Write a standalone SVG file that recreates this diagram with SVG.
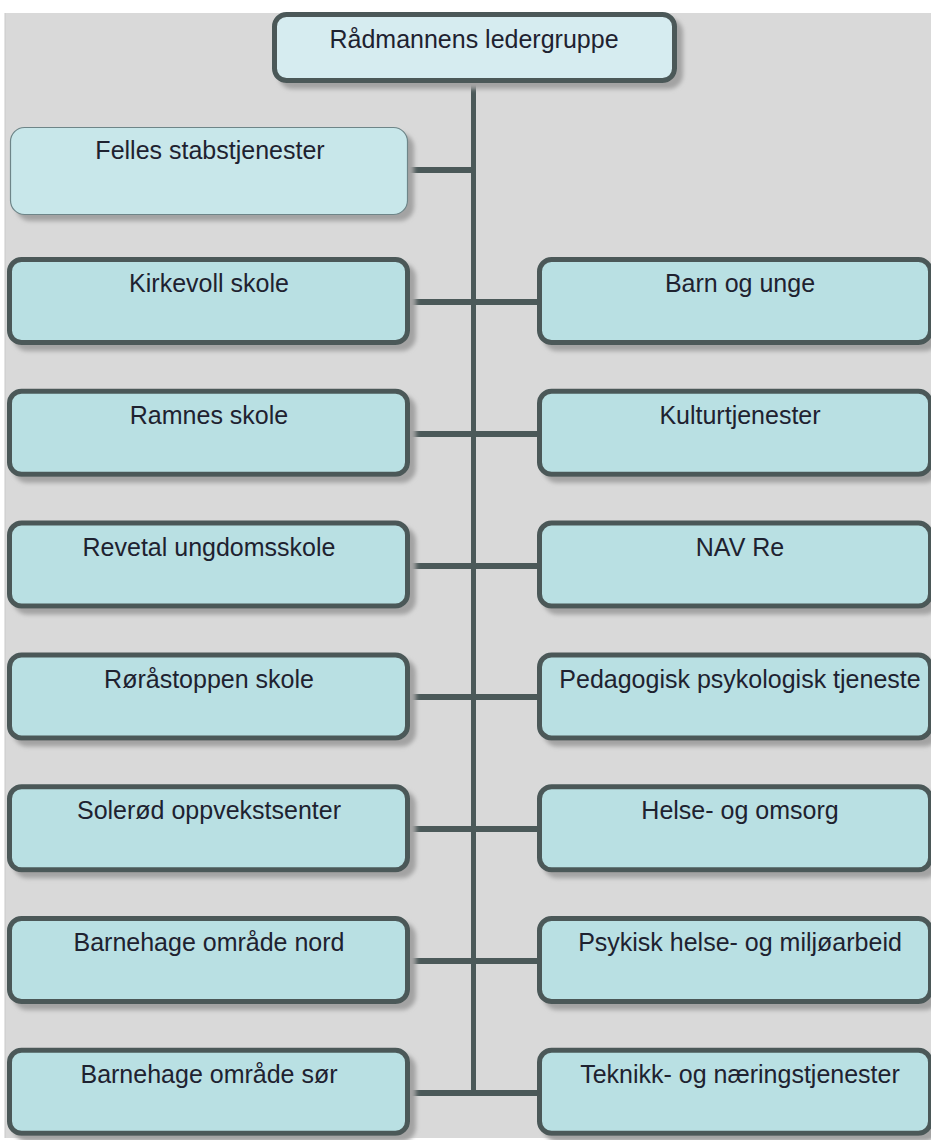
<svg xmlns="http://www.w3.org/2000/svg" width="931" height="1140" viewBox="0 0 931 1140">
<style>
.box{fill:#b9e0e3;stroke:#4b5959;stroke-width:5;filter:url(#sh)}
.top{fill:#d6ecf0;stroke:#4b5959;stroke-width:5;filter:url(#sh)}
.staff{fill:#c8e7ea;stroke:#6e8588;stroke-width:1.2;filter:url(#sh)}
.t{font-family:"Liberation Sans",Arial,sans-serif;font-size:25px;fill:#1e2230;text-anchor:middle}
.con{stroke:#4b5959;fill:none}
</style>
<defs>
<filter id="sh" x="-5%" y="-10%" width="115%" height="130%">
<feDropShadow dx="6" dy="6" stdDeviation="2" flood-color="#a3a3a3" flood-opacity="1"/>
</filter>
</defs>
<rect x="0" y="0" width="931" height="1140" fill="#ffffff"/>
<rect x="5" y="13" width="926" height="1125" fill="#d9d9d9"/>
<line x1="5" y1="13" x2="5" y2="1138" stroke="#c9c9c9" stroke-width="1"/>

<g id="connectors">
<line class="con" x1="473.5" y1="80" x2="473.5" y2="1095.5" stroke-width="5"/>
<line class="con" x1="407" y1="170" x2="476" y2="170" stroke-width="6"/>
<line class="con" x1="408" y1="302" x2="539" y2="302" stroke-width="6"/>
<line class="con" x1="408" y1="434" x2="539" y2="434" stroke-width="6"/>
<line class="con" x1="408" y1="566" x2="539" y2="566" stroke-width="6"/>
<line class="con" x1="408" y1="697" x2="539" y2="697" stroke-width="6"/>
<line class="con" x1="408" y1="829" x2="539" y2="829" stroke-width="6"/>
<line class="con" x1="408" y1="961" x2="539" y2="961" stroke-width="6"/>
<line class="con" x1="408" y1="1093" x2="539" y2="1093" stroke-width="6"/>
</g>

<g id="n-top"><rect class="top" x="274.5" y="14.5" width="400" height="66" rx="12"/><text class="t" x="474" y="48">Rådmannens ledergruppe</text></g>
<g id="n-felles"><rect class="staff" x="10.5" y="127.5" width="397" height="87" rx="14"/><text class="t" x="210" y="159">Felles stabstjenester</text></g>

<g id="n-kirkevoll"><rect class="box" x="9.5" y="259.5" width="398" height="83" rx="12"/><text class="t" x="209" y="292">Kirkevoll skole</text></g>
<g id="n-barn"><rect class="box" x="539.5" y="259.5" width="391" height="83" rx="12"/><text class="t" x="740" y="292">Barn og unge</text></g>

<g id="n-ramnes"><rect class="box" x="9.5" y="391.3" width="398" height="83" rx="12"/><text class="t" x="209" y="424">Ramnes skole</text></g>
<g id="n-kultur"><rect class="box" x="539.5" y="391.3" width="391" height="83" rx="12"/><text class="t" x="740" y="424">Kulturtjenester</text></g>

<g id="n-revetal"><rect class="box" x="9.5" y="523.1" width="398" height="83" rx="12"/><text class="t" x="209" y="556">Revetal ungdomsskole</text></g>
<g id="n-nav"><rect class="box" x="539.5" y="523.1" width="391" height="83" rx="12"/><text class="t" x="740" y="556">NAV Re</text></g>

<g id="n-roraastoppen"><rect class="box" x="9.5" y="654.9" width="398" height="83" rx="12"/><text class="t" x="209" y="688">Røråstoppen skole</text></g>
<g id="n-ppt"><rect class="box" x="539.5" y="654.9" width="391" height="83" rx="12"/><text class="t" x="740" y="688">Pedagogisk psykologisk tjeneste</text></g>

<g id="n-solerod"><rect class="box" x="9.5" y="786.7" width="398" height="83" rx="12"/><text class="t" x="209" y="819">Solerød oppvekstsenter</text></g>
<g id="n-helse"><rect class="box" x="539.5" y="786.7" width="391" height="83" rx="12"/><text class="t" x="740" y="819">Helse- og omsorg</text></g>

<g id="n-bhg-nord"><rect class="box" x="9.5" y="918.5" width="398" height="83" rx="12"/><text class="t" x="209" y="951">Barnehage område nord</text></g>
<g id="n-psykisk"><rect class="box" x="539.5" y="918.5" width="391" height="83" rx="12"/><text class="t" x="740" y="951">Psykisk helse- og miljøarbeid</text></g>

<g id="n-bhg-sor"><rect class="box" x="9.5" y="1050.3" width="398" height="83" rx="12"/><text class="t" x="209" y="1083">Barnehage område sør</text></g>
<g id="n-teknikk"><rect class="box" x="539.5" y="1050.3" width="391" height="83" rx="12"/><text class="t" x="740" y="1083">Teknikk- og næringstjenester</text></g>
</svg>
